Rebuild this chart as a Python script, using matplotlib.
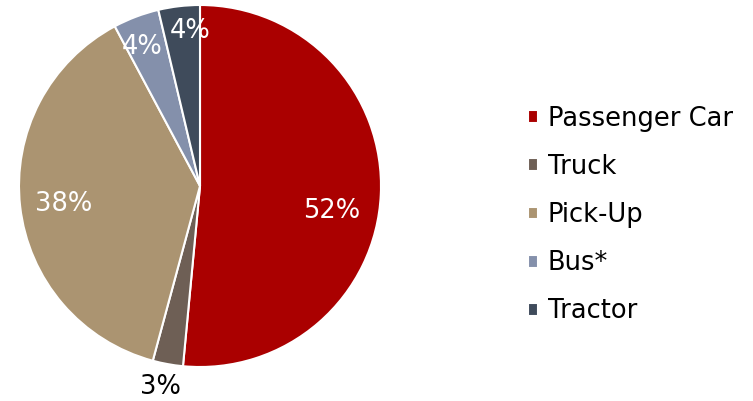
import numpy as np
import matplotlib
matplotlib.use("Agg")
import matplotlib.pyplot as plt

categories = ["Passenger Car", "Truck", "Pick-Up", "Bus*", "Tractor"]
shares = [51.5, 2.7, 38.0, 4.1, 3.7]
labels = ["52%", "3%", "38%", "4%", "4%"]
colors = ["#AA0000", "#6E5F55", "#AB9471", "#8490AB", "#3F4B5B"]
label_colors = ["white", "black", "white", "white", "white"]
label_radius = [0.74, 1.13, 0.76, 0.83, 0.86]
label_angle_shift = [-8, -1, 1, 2, -3]

plt.rcParams['font.family'] = ['DejaVu Sans']
fig = plt.figure(figsize=(7.53, 4.01), dpi=100)
ax = fig.add_axes([19/753, 34/401, 362/753, 362/401])
wedges, _ = ax.pie(shares, colors=colors, startangle=90, counterclock=False,
                   radius=1.0, wedgeprops=dict(edgecolor="white", linewidth=1.5))
ax.set_xlim(-1, 1)
ax.set_ylim(-1, 1)
ax.set_aspect("equal")
ax.axis("off")

for w, lab, r, sh, c in zip(wedges, labels, label_radius, label_angle_shift, label_colors):
    mid = np.deg2rad((w.theta1 + w.theta2) / 2 + sh)
    ax.text(r * np.cos(mid), r * np.sin(mid), lab, ha="center", va="center",
            fontsize=18.5, color=c, clip_on=False)

fig.legend(wedges, categories, loc="upper left", bbox_to_anchor=(528/753, 1 - 106/401),
           frameon=False, fontsize=18.5, handlelength=0.4, handleheight=0.4,
           handletextpad=0.36, labelspacing=0.86, borderpad=0, borderaxespad=0)

fig.savefig("out.png", dpi=100)
